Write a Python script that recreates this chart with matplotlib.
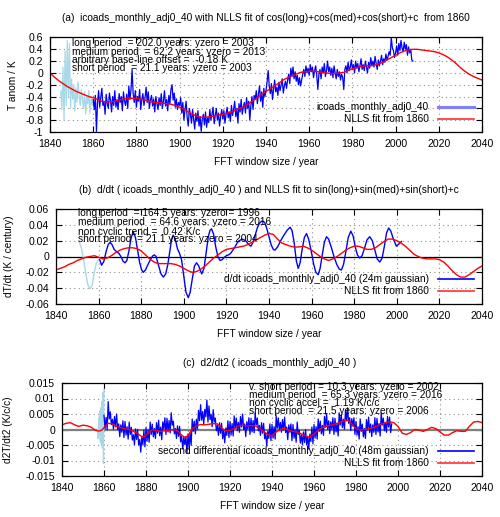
import numpy as np
import matplotlib
matplotlib.use('Agg')
import matplotlib.pyplot as plt
from matplotlib.lines import Line2D

plt.rcParams['font.family'] = ['Liberation Sans', 'DejaVu Sans']
FS = 7.3      # titles, notes, legends
TFS = 7.6     # tick labels

# ---------------- panel (a) data ----------------
# temperature anomaly (K), half-year steps
a_pre_start = 1845.0
a_pre = [-0.30, -0.62, 0.10, -0.81, 0.37, -0.55, 0.55, -0.40, 0.50, -0.60,
         -0.10, -0.45, -0.20, -0.65, -0.25, -0.50, -0.15, -0.38, -0.55, -0.28,
         -0.45, -0.60, -0.32, -0.70, -0.40, -0.52, -0.30, -0.68, -0.42, -0.55,
         -0.45]
a_main_start = 1860.0
a_main = [-0.45, -0.62, -0.38, -0.99, -0.50, -0.30, -0.58, -0.42, -0.26, -0.55,
          -0.48, -0.70, -0.36, -0.52, -0.60, -0.34, -0.46, -0.66, -0.40, -0.55,
          -0.30, -0.58, -0.45, -0.62, -0.35, -0.50, -0.40, -0.64, -0.32, -0.48,
          -0.55, -0.36, -0.60, -0.22, -0.45, -0.28, 0.06, -0.35, -0.50, -0.30,
          -0.58, -0.40, -0.48, -0.28, -0.62, -0.45, -0.35, -0.55, -0.42, -0.24,
          -0.50, -0.32, -0.60, -0.46, -0.38, -0.56, -0.44, -0.66, -0.40, -0.52,
          -0.62, -0.42, -0.55, -0.35, -0.60, -0.48, -0.30, -0.56, -0.45, -0.64,
          -0.38, -0.52, -0.28, -0.20, -0.46, -0.34, -0.58, -0.44, -0.62, -0.50,
          -0.55, -0.42, -0.68, -0.50, -0.80, -0.62, -0.48, -0.75, -0.90, -0.60,
          -0.70, -0.85, -0.62, -0.78, -0.95, -0.68, -0.82, -0.64, -0.90, -0.74,
          -0.99, -0.78, -0.70, -0.88, -0.66, -0.92, -0.76, -0.84, -0.62, -0.80,
          -0.70, -0.58, -0.86, -0.72, -0.60, -0.80, -0.68, -0.90, -0.74, -0.62,
          -0.78, -0.64, -0.85, -0.70, -0.58, -0.76, -0.66, -0.82, -0.55, -0.72,
          -0.62, -0.48, -0.74, -0.60, -0.85, -0.52, -0.66, -0.45, -0.70, -0.58,
          -0.50, -0.68, -0.42, -0.60, -0.48, -0.80, -0.55, -0.40, -0.62, -0.38,
          -0.45, -0.30, -0.52, -0.36, -0.22, -0.48, -0.32, -0.58, -0.26, -0.40,
          -0.30, -0.15, 0.04, -0.22, -0.35, -0.18, -0.45, -0.28, -0.12, -0.32,
          -0.24, -0.38, -0.16, -0.30, -0.20, -0.10, -0.34, -0.22, -0.14, -0.26,
          -0.12, -0.02, -0.18, 0.08, -0.06, 0.10, -0.10, 0.02, -0.14, -0.04,
          -0.20, -0.08, -0.22, -0.12, -0.02, 0.06, -0.06, 0.12, 0.00, 0.08,
          -0.04, 0.14, 0.02, 0.10, -0.08, 0.04, 0.12, -0.04, -0.28, -0.02,
          0.06, -0.10, 0.10, 0.00, 0.16, -0.06, 0.04, 0.20, 0.02, 0.10,
          -0.04, 0.08, -0.08, 0.12, 0.00, -0.10, 0.06, -0.06, 0.02, -0.12,
          -0.02, -0.08, -0.28, 0.06, 0.12, 0.00, 0.18, 0.04, 0.10, 0.22,
          0.06, 0.14, 0.00, 0.20, 0.08, 0.16, 0.02, 0.12, 0.24, 0.06,
          0.14, 0.04, 0.20, 0.10, 0.00, 0.18, 0.08, 0.26, 0.12, 0.20,
          0.10, 0.28, 0.16, 0.06, 0.22, 0.12, 0.20, 0.30, 0.14, 0.24,
          0.18, 0.32, 0.22, 0.28, 0.36, 0.30, 0.60, 0.42, 0.38, 0.26,
          0.34, 0.46, 0.30, 0.50, 0.38, 0.55, 0.42, 0.36, 0.52, 0.40,
          0.48, 0.30, 0.44, 0.34, 0.40, 0.22, 0.20]
a_fit_years = list(range(1840, 2041, 2))
a_fit = [0.00, -0.07, -0.13, -0.18, -0.23, -0.27, -0.31, -0.34, -0.37, -0.40,
         -0.42, -0.45, -0.48, -0.49, -0.49, -0.48, -0.46, -0.44, -0.43, -0.43,
         -0.43, -0.44, -0.46, -0.48, -0.50, -0.50, -0.51, -0.52, -0.53, -0.55,
         -0.58, -0.62, -0.66, -0.70, -0.73, -0.75, -0.75, -0.74, -0.73, -0.71,
         -0.70, -0.68, -0.66, -0.63, -0.60, -0.56, -0.52, -0.47, -0.42, -0.36,
         -0.31, -0.27, -0.22, -0.17, -0.12, -0.08, -0.05, -0.02, 0.01, 0.02,
         0.03, 0.03, 0.02, 0.01, 0.00, -0.01, -0.01, 0.00, 0.01, 0.04,
         0.07, 0.09, 0.11, 0.12, 0.12, 0.13, 0.15, 0.18, 0.22, 0.26,
         0.30, 0.34, 0.37, 0.39, 0.40, 0.40, 0.39, 0.38, 0.37, 0.36,
         0.34, 0.31, 0.27, 0.22, 0.16, 0.09, 0.03, -0.02, -0.06, -0.09, -0.12]

# ---------------- panel (b) data ----------------
b_pre_years = [1851, 1852, 1853, 1854, 1855, 1855.9, 1857, 1858, 1859, 1860]
b_pre = [0.018, 0.010, -0.005, -0.022, -0.036, -0.041, -0.036, -0.020, -0.008, -0.004]
b_years = [1860.5, 1861.4, 1862.5, 1863.5, 1864.5, 1865.4, 1866.3, 1867.3, 1868.5, 1869.5,
           1870.5, 1871.5, 1872.4, 1873.3, 1874.3, 1875.3, 1876.3, 1877.3, 1878.3, 1879.3,
           1880.2, 1881, 1882, 1883.2, 1884.5, 1885.5, 1886.2, 1887, 1888, 1889.3,
           1890.4, 1891.5, 1892.5, 1893.5, 1894.3, 1895, 1896, 1897, 1898, 1899,
           1900, 1901, 1902.1, 1903, 1904, 1905, 1906, 1907, 1908.4, 1909.5,
           1910.5, 1911.5, 1912.3, 1913, 1914, 1915, 1916, 1917, 1918, 1919,
           1920, 1921, 1922, 1923, 1924, 1925, 1926, 1927.5, 1929, 1930.5,
           1931.5, 1932.5, 1933.5, 1934.5, 1935.5, 1936.8, 1938, 1939, 1940, 1941,
           1942, 1942.8, 1944, 1945.5, 1947, 1948.5, 1949.9, 1950.8, 1951.8, 1952.8,
           1953.7, 1954.6, 1955.5, 1956.6, 1957.6, 1958.6, 1959.8, 1961, 1962, 1963.1,
           1964, 1965, 1966, 1967, 1968, 1969.2, 1970.5, 1971.8, 1973, 1974,
           1975, 1976, 1977.2, 1978.4, 1979.5, 1980.5, 1981.5, 1982.6, 1983.7, 1984.8,
           1986, 1987.3, 1988.5, 1989.7, 1990.8, 1992, 1993.1, 1994.1, 1995.2, 1996.2,
           1997.2, 1998.4, 1999.8, 2001, 2002.2]
b_deriv = [-0.004, -0.011, -0.006, 0.006, 0.015, 0.018, 0.015, 0.009, 0.006, 0.004,
           0.000, -0.006, -0.008, -0.005, 0.008, 0.024, 0.031, 0.024, 0.008, -0.008,
           -0.017, -0.020, -0.017, -0.010, -0.003, 0.001, 0.002, 0.000, -0.010, -0.022,
           -0.026, -0.022, -0.010, 0.008, 0.022, 0.027, 0.022, 0.010, 0.004, -0.005,
           -0.025, -0.045, -0.052, -0.045, -0.028, -0.012, -0.008, -0.012, -0.022, -0.015,
           0.005, 0.025, 0.033, 0.035, 0.028, 0.012, 0.000, -0.005, -0.004, -0.001,
           0.001, 0.002, 0.004, 0.008, 0.012, 0.017, 0.020, 0.022, 0.020, 0.015,
           0.013, 0.018, 0.027, 0.036, 0.042, 0.045, 0.043, 0.035, 0.025, 0.015,
           0.009, 0.008, 0.012, 0.020, 0.027, 0.033, 0.037, 0.033, 0.018, -0.005,
           -0.015, -0.008, 0.008, 0.024, 0.029, 0.022, 0.007, -0.010, -0.020, -0.023,
           -0.015, 0.002, 0.018, 0.025, 0.022, 0.012, 0.000, -0.010, -0.016, -0.017,
           -0.010, 0.005, 0.024, 0.032, 0.026, 0.012, 0.002, -0.002, 0.001, 0.010,
           0.021, 0.025, 0.020, 0.008, -0.003, -0.007, -0.002, 0.012, 0.030, 0.036,
           0.032, 0.022, 0.013, 0.016, 0.019]
b_fit_years = list(range(1840, 2041, 2))
b_fit = [-0.017, -0.015, -0.013, -0.010, -0.008, -0.005, -0.003, -0.001, 0.000, 0.001,
         -0.001, -0.003, -0.002, 0.001, 0.005, 0.008, 0.010, 0.011, 0.011, 0.010,
         0.007, 0.002, -0.003, -0.007, -0.009, -0.009, -0.009, -0.009, -0.010, -0.012,
         -0.015, -0.018, -0.020, -0.019, -0.016, -0.012, -0.007, -0.002, 0.002, 0.006,
         0.009, 0.010, 0.011, 0.012, 0.013, 0.015, 0.018, 0.021, 0.024, 0.027,
         0.029, 0.028, 0.022, 0.017, 0.015, 0.013, 0.012, 0.012, 0.013, 0.011,
         0.008, 0.004, 0.000, -0.003, -0.005, -0.003, 0.000, 0.004, 0.008, 0.011,
         0.013, 0.013, 0.011, 0.009, 0.009, 0.011, 0.015, 0.019, 0.022, 0.022,
         0.020, 0.017, 0.013, 0.008, 0.003, 0.000, -0.002, -0.003, -0.003, -0.003,
         -0.004, -0.007, -0.012, -0.018, -0.023, -0.026, -0.026, -0.023, -0.019, -0.015,
         -0.012]

# ---------------- panel (c) data ----------------
c_pre_years = [1857.0, 1857.25, 1857.5, 1857.75, 1858.0, 1858.25, 1858.5, 1858.75,
               1859.0, 1859.25, 1859.5, 1859.75, 1860.0]
c_pre = [0.000, -0.003, 0.004, -0.002, 0.006, -0.004, 0.007, -0.005,
         0.009, -0.006, 0.012, -0.011, 0.013]
# second differential in units of 0.001 K/c/c, half-year steps from 1860
c_main_start = 1860.0
c_main_milli = [4.6, 0.2, 3.9, -0.1, 9.0, 3.4, 5.7, 1.6, 3.3, 0.1,
                4.2, 0.8, 5.0, 0.0, 1.8, -2.3, 1.5, -0.9, 2.8, -2.6,
                2.6, -1.8, 0.9, -3.1, 2.4, -1.6, 0.7, -3.4, -1.7, -4.9,
                0.2, -3.2, 0.0, -5.0, -3.2, -7.3, -2.5, -4.9, -0.2, -5.6,
                0.6, -3.8, -0.1, -4.1, 2.4, -1.6, 1.7, -2.4, 0.3, -2.9,
                2.2, -1.2, 3.0, -2.0, 0.8, -3.3, 2.5, 0.1, 3.8, -1.6,
                3.6, -0.8, 2.9, -1.1, 5.4, 1.4, 2.7, -1.4, 0.3, -2.9,
                1.2, -2.2, 1.0, -4.0, -2.2, -6.3, -2.5, -4.9, -2.2, -7.6,
                -1.4, -5.8, -1.1, -5.1, 3.4, -0.6, 2.7, -1.4, 3.3, 0.1,
                6.2, 2.8, 8.0, 3.0, 5.8, 1.7, 6.5, 4.1, 9.5, 2.4,
                7.6, 3.2, 4.9, 0.9, 6.4, 2.4, 3.7, -0.4, 1.3, -1.9,
                2.2, -1.2, 2.0, -3.0, -0.2, -4.3, 0.5, -1.9, 2.8, -2.6,
                2.6, -1.8, 1.9, -2.1, 4.4, 0.4, 3.7, -0.4, 2.3, -0.9,
                4.2, 0.8, 5.0, 0.0, 1.8, -2.3, 2.5, 0.1, 3.8, -1.6,
                3.6, -0.8, 2.9, -1.1, 5.4, 1.4, 3.7, -0.4, 1.3, -1.9,
                2.2, -1.2, 2.0, -3.0, -1.2, -5.3, -0.5, -2.9, 1.8, -3.6,
                1.6, -2.8, 0.9, -3.1, 4.4, 0.4, 3.7, -0.4, 2.3, -0.9,
                3.2, -0.2, 4.0, -1.0, 0.8, -3.3, 1.5, -0.9, 1.8, -3.6,
                1.6, -2.8, -0.1, -4.1, 2.4, -1.6, -0.3, -4.4, -1.7, -4.9,
                -0.8, -4.2, 0.0, -5.0, -2.2, -6.3, -1.5, -3.9, 0.8, -4.6,
                1.6, -2.8, 0.9, -3.1, 3.4, -0.6, 2.7, -1.4, 1.3, -1.9,
                4.2, 0.8, 5.0, 0.0, 2.8, -1.3, 2.5, 0.1, 3.8, -1.6,
                3.6, -0.8, 1.9, -2.1, 5.4, 1.4, 4.7, 0.6, 3.3, 0.1,
                6.2, 2.8, 7.0, 2.0, 3.8, -0.3, 3.5, 1.1, 3.8, -1.6,
                2.6, -1.8, 0.9, -3.1, 3.4, -0.6, 1.7, -2.4, 0.3, -2.9,
                3.2, -0.2, 4.0, -1.0, 1.8, -2.3, 1.5, -0.9, 3.8, -1.6,
                3.6, -0.8, 1.9, -2.1, 5.4, 1.4, 3.7, -0.4, 2.3, -0.9,
                4.2, 0.8, 4.0, -1.0, 1.8]
c_fit_years = [1840, 1842, 1844, 1846, 1848, 1850, 1852, 1854, 1856, 1857.5,
               1859, 1860.5, 1862, 1864, 1866, 1868, 1870, 1872, 1874, 1876,
               1878, 1879.5, 1881, 1883, 1885, 1887, 1889, 1891, 1893, 1895,
               1897, 1898.5, 1900, 1902, 1904, 1906, 1908, 1910, 1912, 1914,
               1916, 1918, 1920, 1922, 1924, 1926, 1928, 1930, 1932, 1934,
               1936, 1938, 1940, 1942, 1944, 1946, 1948, 1950, 1952, 1954,
               1956, 1958, 1960, 1962, 1964, 1966, 1968, 1970, 1972, 1974,
               1976, 1978, 1980, 1982, 1984, 1986, 1988, 1990, 1992, 1994,
               1996, 1998, 2000, 2002, 2004, 2006, 2008, 2010, 2012, 2014,
               2016, 2018, 2020, 2022, 2024, 2026, 2028, 2030, 2032, 2034,
               2036, 2038, 2040]
c_fit = [0.0015, 0.0020, 0.0022, 0.0015, 0.0010, 0.0014, 0.0012, 0.0007, -0.0003, -0.0005,
         -0.0002, 0.0010, 0.0020, 0.0018, 0.0010, 0.0006, 0.0002, 0.0000, -0.0006, -0.0013,
         -0.0023, -0.0022, -0.0012, 0.0000, -0.0003, -0.0006, -0.0004, -0.0002, 0.0000, -0.0004,
         -0.0018, -0.0026, -0.0020, 0.0002, 0.0012, 0.0016, 0.0015, 0.0017, 0.0019, 0.0018,
         0.0005, -0.0004, -0.0003, 0.0003, 0.0011, 0.0014, 0.0012, 0.0013, 0.0011, 0.0004,
         -0.0006, -0.0016, -0.0021, -0.0008, 0.0000, 0.0003, -0.0002, -0.0006, -0.0008, -0.0014,
         -0.0021, -0.0025, -0.0014, -0.0002, 0.0006, 0.0010, 0.0014, 0.0018, 0.0022, 0.0028,
         0.0030, 0.0018, 0.0002, -0.0002, 0.0000, 0.0002, 0.0006, 0.0011, 0.0017, 0.0022,
         0.0025, 0.0022, 0.0010, -0.0012, -0.0016, -0.0010, 0.0000, -0.0002, -0.0006, 0.0000,
         0.0007, 0.0003, -0.0008, -0.0018, -0.0018, -0.0010, -0.0004, -0.0006, -0.0006, 0.0010,
         0.0024, 0.0026, 0.0022]

a_notes = ["long period  = 202.0 years: yzero = 2003",
           "medium period  = 62.2 years: yzero = 2013",
           "arbitrary base-line offset =  -0.18 K",
           "short period  = 21.1 years: yzero = 2003"]
b_notes = ["long period  = 164.5 years: yzero = 1996",
           "medium period  = 64.6 years: yzero = 2016",
           "non cyclic trend =  0.42 K/c",
           "short period  = 21.1 years: yzero = 2004"]
c_notes = ["v. short period  = 10.3 years: yzero = 2002",
           "medium period  = 65.3 years: yzero = 2016",
           "non cyclic accel =  1.19 K/c/c",
           "short period  = 21.5 years: yzero = 2006"]

W, H = 500, 517
fig = plt.figure(figsize=(W / 100, H / 100), dpi=100)


def px_axes(left, top, right, bottom):
    return fig.add_axes([left / W, 1 - bottom / H, (right - left) / W, (bottom - top) / H])


def style(ax, yticks, ylabels):
    ax.set_xlim(1840, 2040)
    ax.set_xticks(range(1840, 2041, 20))
    ax.set_yticks(yticks)
    ax.set_yticklabels(ylabels)
    ax.set_ylim(yticks[0], yticks[-1])
    ax.tick_params(direction='in', top=True, right=True, length=4, width=0.8,
                   labelsize=TFS, pad=5)
    ax.grid(True, linestyle=(0, (1, 3)), color='#909090', lw=0.8)
    for s in ax.spines.values():
        s.set_linewidth(0.9)


def legend(ax, labels, first_color, first_lw):
    handles = [Line2D([], [], color=first_color, lw=first_lw),
               Line2D([], [], color='#ff3030', lw=1.2)]
    ax.legend(handles, labels, loc='lower right', markerfirst=False, frameon=False,
              fontsize=FS, handlelength=3.6, handletextpad=0.9, labelspacing=0.2,
              borderaxespad=0.35)


def notes(lines, x, ys):
    for t, y in zip(lines, ys):
        fig.text(x / W, 1 - y / H, t, fontsize=FS, va='center', ha='left')


# ---- (a)
ax = px_axes(50, 37.5, 482, 132)
yrs_pre = a_pre_start + 0.5 * np.arange(len(a_pre))
yrs_main = a_main_start + 0.5 * np.arange(len(a_main))
ax.plot(yrs_pre, a_pre, color='#a8d8e8', lw=0.9)
ax.plot(yrs_main, a_main, color='blue', lw=0.9)
ax.plot(a_fit_years, a_fit, color='red', lw=1.0)
style(ax, [-1, -0.8, -0.6, -0.4, -0.2, 0, 0.2, 0.4, 0.6],
      ['-1', '-0.8', '-0.6', '-0.4', '-0.2', '0', '0.2', '0.4', '0.6'])
legend(ax, ['icoads_monthly_adj0_40', 'NLLS fit from 1860'], '#8080ff', 2.2)
fig.text(266 / W, 1 - 18 / H,
         '(a)  icoads_monthly_adj0_40 with NLLS fit of cos(long)+cos(med)+cos(short)+c  from 1860',
         fontsize=FS, ha='center', va='center')
fig.text(266 / W, 1 - 162 / H, 'FFT window size / year', fontsize=FS, ha='center', va='center')
fig.text(13 / W, 1 - 85 / H, 'T anom / K', fontsize=FS, ha='center', va='center', rotation=90)
notes(a_notes, 72, [43.3, 51.7, 60, 67.7])

# ---- (b)
ax = px_axes(56, 209, 482, 304)
ax.axhline(0, color='black', lw=0.9)
ax.plot(b_pre_years, b_pre, color='#a8d8e8', lw=1.0)
ax.plot(b_years, b_deriv, color='blue', lw=1.0)
ax.plot(b_fit_years, b_fit, color='red', lw=1.0)
style(ax, [-0.06, -0.04, -0.02, 0, 0.02, 0.04, 0.06],
      ['-0.06', '-0.04', '-0.02', '0', '0.02', '0.04', '0.06'])
legend(ax, ['d/dt icoads_monthly_adj0_40 (24m gaussian)', 'NLLS fit from 1860'], 'blue', 1.2)
fig.text(269 / W, 1 - 190 / H,
         '(b)  d/dt ( icoads_monthly_adj0_40 ) and NLLS fit to sin(long)+sin(med)+sin(short)+c',
         fontsize=FS, ha='center', va='center')
fig.text(269 / W, 1 - 334 / H, 'FFT window size / year', fontsize=FS, ha='center', va='center')
fig.text(9 / W, 1 - 256 / H, 'dT/dt (K / century)', fontsize=FS, ha='center', va='center', rotation=90)
notes(b_notes, 77.7, [213.3, 222.3, 231.7, 239.3])

# ---- (c)
ax = px_axes(62, 383, 482, 476)
ax.axhline(0, color='#808080', lw=1.6)
ax.plot(c_pre_years, c_pre, color='#a8d8e8', lw=0.9)
yrs_c = c_main_start + 0.5 * np.arange(len(c_main_milli))
ax.plot(yrs_c, np.array(c_main_milli) / 1000.0, color='blue', lw=0.9)
ax.plot(c_fit_years, c_fit, color='red', lw=1.0)
style(ax, [-0.015, -0.01, -0.005, 0, 0.005, 0.01, 0.015],
      ['-0.015', '-0.01', '-0.005', '0', '0.005', '0.01', '0.015'])
legend(ax, ['second differential icoads_monthly_adj0_40 (48m gaussian)', 'NLLS fit from 1860'], 'blue', 1.2)
fig.text(270 / W, 1 - 363 / H, '(c)  d2/dt2 ( icoads_monthly_adj0_40 )',
         fontsize=FS, ha='center', va='center')
fig.text(272 / W, 1 - 506 / H, 'FFT window size / year', fontsize=FS, ha='center', va='center')
fig.text(8 / W, 1 - 430 / H, 'd2T/dt2 (K/c/c)', fontsize=FS, ha='center', va='center', rotation=90)
notes(c_notes, 249, [386.7, 395, 403.3, 411])

fig.savefig('out.png', dpi=100)
